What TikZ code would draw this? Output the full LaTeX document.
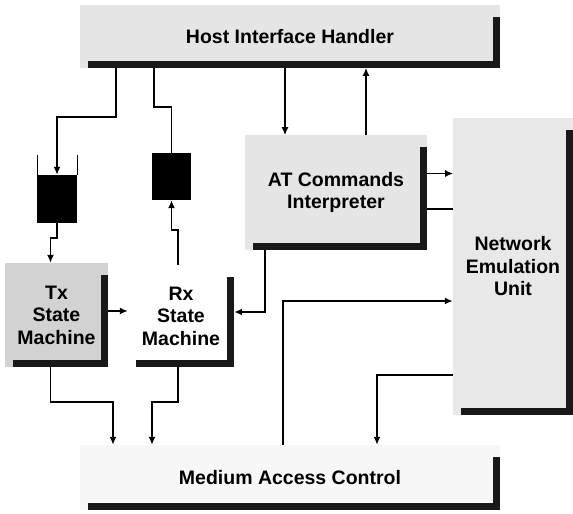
\documentclass[tikz,border=0pt]{standalone}
\usepackage{fontspec}
\setmainfont{Liberation Sans}
\usetikzlibrary{positioning,arrows.meta}

% dark bar along the bottom and right edge of a block
\newcommand{\blockshadow}[1]{%
  \draw[line width=7.5pt, black!90] ([xshift=8pt,yshift=3.75pt]#1.south west) -| ([xshift=-3.75pt,yshift=-12pt]#1.north east);}

\begin{document}
\begin{tikzpicture}[x=1pt, y=-1pt, >={Latex[length=8pt,width=7pt]},
    block/.style={fill=gray!20, inner sep=0pt, align=center, font=\bfseries\fontsize{19.5}{22.5}\selectfont},
    buffer/.style={fill=black, inner sep=0pt},
    link/.style={line width=1.6pt},
    arr/.style={link, ->}]
  \useasboundingbox (0,0) rectangle (573,514);

  % blocks
  \node[block, minimum width=420pt, minimum height=63pt] (host) at (290,36.5) {Host Interface Handler};
  \node[block, minimum width=182pt, minimum height=115pt] (at) at (336,192.5) {AT Commands\\Interpreter};
  \node[block, fill=gray!18, minimum width=120pt, minimum height=297pt] (neu) at (513,266.5) {Network\\Emulation\\Unit};
  \node[block, fill=gray!35, minimum width=103pt, minimum height=104pt] (tx) at (56.5,315) {Tx\\State\\Machine};
  \node[block, fill=white, minimum width=106pt, minimum height=102pt] (rx) at (181,316) {Rx\\State\\Machine};
  \node[block, fill=gray!6, minimum width=420pt, minimum height=65pt] (mac) at (290,477.5) {Medium Access Control};

  \blockshadow{host}
  \blockshadow{at}
  \blockshadow{neu}
  \blockshadow{tx}
  \blockshadow{rx}
  \blockshadow{mac}

  % buffers
  \node[buffer, minimum width=40pt, minimum height=48pt] (txbuf) at (57,199) {};
  \node[buffer, minimum width=39pt, minimum height=47pt] (rxbuf) at (171.5,176.5) {};
  \draw[thin] (txbuf.north west) -- ++(0,-20);
  \draw[thin] (txbuf.north east) -- ++(0,-20);

  % host side
  \draw[arr] (host.south west) ++(36,0) -- ++(0,49) -| (txbuf.north);
  \draw[arr] (txbuf.south) -- ++(0,15) -| ([xshift=-6pt]tx.north);
  \draw[link] (host.south west) ++(74,0) -- ++(0,39) -| (rxbuf.north);
  \draw[arr] ([xshift=-3pt]rx.north) -- ++(0,-35) -| (rxbuf.south);
  \draw[arr] ([xshift=-5pt]host.south) -- ++(0,67);
  \draw[arr] ([xshift=30pt]at.north) -- ++(0,-67);

  % interpreter and emulation unit
  \draw[arr] ([yshift=19pt]at.east) -- ++(26,0);
  \draw[link] ([yshift=57.5pt]neu.west) -- ++(-26,0);
  \draw[arr] ([xshift=-71pt]at.south) |- ([yshift=4pt]rx.east);

  % state machines
  \draw[arr] ([yshift=4pt]tx.east) -- ([yshift=5pt]rx.west);
  \draw[arr] ([xshift=-6pt]tx.south) -- ++(0,35) -| ([xshift=-177pt]mac.north);
  \draw[arr] ([xshift=-3pt]rx.south) -- ++(0,35) -| ([xshift=-138pt]mac.north);

  % medium access control
  \draw[arr] ([xshift=-7pt]mac.north) |- ([yshift=-34.5pt]neu.west);
  \draw[arr] ([yshift=-108.5pt]neu.west) -| ([xshift=87pt]mac.north);
\end{tikzpicture}
\end{document}
